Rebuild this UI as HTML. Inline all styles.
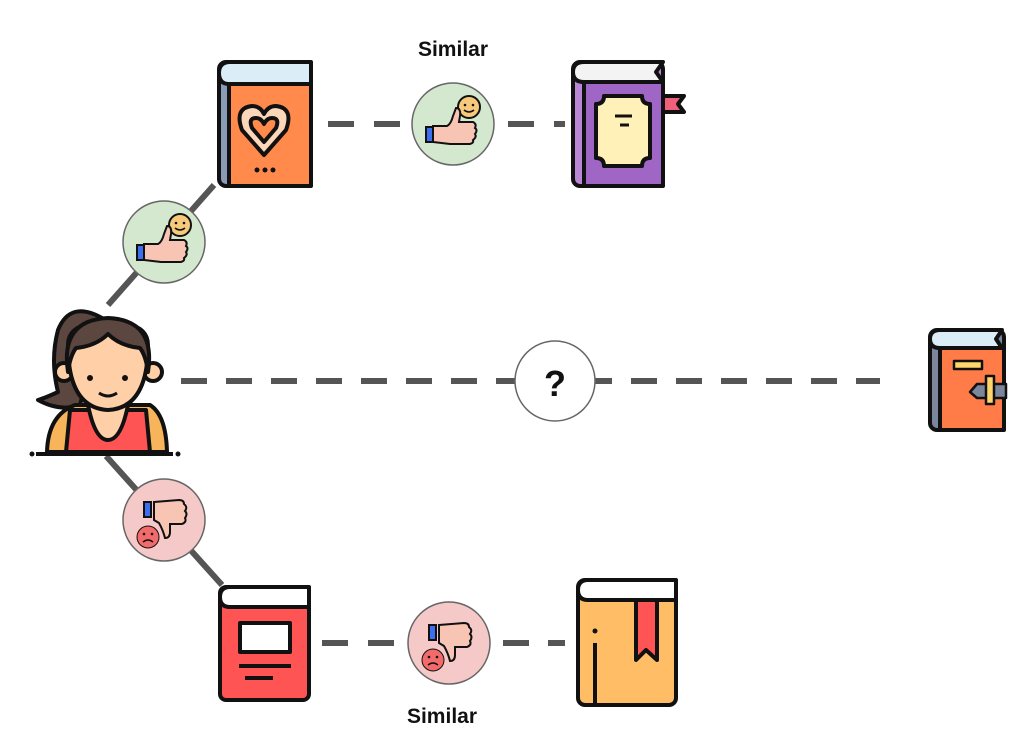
<!DOCTYPE html>
<html><head><meta charset="utf-8"><style>
html,body{margin:0;padding:0;background:#fff;width:1026px;height:730px;overflow:hidden}
svg{display:block}
text{font-family:"Liberation Sans",sans-serif;font-weight:bold}
</style></head><body>
<svg width="1026" height="730" viewBox="0 0 1026 730" xmlns="http://www.w3.org/2000/svg">
<defs>
<g id="up">
 <circle cx="0" cy="0" r="41" fill="#d3e8cf" stroke="#666" stroke-width="1.5"/>
 <circle cx="16" cy="-17" r="11" fill="#f7c97a" stroke="#111" stroke-width="2"/>
 <circle cx="12" cy="-19" r="1.3" fill="#111"/><circle cx="20" cy="-19" r="1.3" fill="#111"/>
 <path d="M11,-14 q5,4 10,0" fill="none" stroke="#111" stroke-width="1.5"/>
 <path d="M-20,2 L-6,2 Q-2,0 0,-8 L3,-16 Q8,-16 7,-8 L6,-2 L20,-2 Q24,0 22,4 Q25,6 22,10 Q24,13 20,16 Q21,19 17,20 L-3,20 L-20,18 Z" fill="#f8c4b4" stroke="#111" stroke-width="2"/>
 <rect x="-27" y="3" width="7" height="15" fill="#3b6ff0" stroke="#111" stroke-width="2"/>
</g>
<g id="down">
 <circle cx="0" cy="0" r="41" fill="#f6c9c9" stroke="#666" stroke-width="1.5"/>
 <circle cx="-16" cy="17" r="11" fill="#f26a6a" stroke="#111" stroke-width="1"/>
 <circle cx="-20" cy="14" r="1.3" fill="#111"/><circle cx="-12" cy="14" r="1.3" fill="#111"/>
 <path d="M-21,22 q5,-4 10,0" fill="none" stroke="#111" stroke-width="1.5"/>
 <path d="M-10,-18 L15,-20 Q20,-20 20,-16 Q24,-13 21,-9 Q24,-6 21,-2 Q23,2 18,4 L6,4 L6,12 Q6,18 1,18 Q-1,10 -5,3 L-10,0 Z" fill="#f8c4b4" stroke="#111" stroke-width="2"/>
 <rect x="-20" y="-18" width="7" height="15" fill="#3b6ff0" stroke="#111" stroke-width="2"/>
</g>
</defs>

<g stroke="#555" stroke-width="6" fill="none">
 <line x1="108" y1="305" x2="214" y2="185"/>
 <line x1="106" y1="456" x2="222" y2="585"/>
 <line x1="181" y1="381" x2="880" y2="381" stroke-dasharray="26 19"/>
 <line x1="328" y1="124" x2="410" y2="124" stroke-dasharray="26 20"/>
 <line x1="508" y1="124" x2="565" y2="124" stroke-dasharray="26 20"/>
 <line x1="322" y1="643" x2="408" y2="643" stroke-dasharray="26 20"/>
 <line x1="503" y1="643" x2="565" y2="643" stroke-dasharray="26 19"/>
</g>

<use href="#up" x="164" y="242"/>
<use href="#up" x="453" y="124"/>
<use href="#down" x="164" y="520"/>
<use href="#down" x="449" y="643"/>

<circle cx="555" cy="381" r="40" fill="#fff" stroke="#666" stroke-width="1.5"/>
<text x="555" y="396" font-size="36" text-anchor="middle" fill="#111">?</text>

<text x="453" y="56" font-size="21" text-anchor="middle" fill="#111">Similar</text>
<text x="442" y="723" font-size="21" text-anchor="middle" fill="#111">Similar</text>

<!-- heart book -->
<g stroke="#111" stroke-width="4" stroke-linejoin="round">
 <rect x="219" y="62" width="92" height="124" rx="7" fill="#8a9bb5"/>
 <rect x="229" y="84" width="82" height="102" fill="#ff8a4c"/>
 <path d="M229,84 Q219,84 219,73 Q219,62 230,62 L311,62 L311,84 Z" fill="#dbeef7"/>
 <path d="M264,155 L242,130 Q234,108 252,106 Q260,106 264,114 Q268,106 276,106 Q294,108 286,130 Z" fill="#fcd6b8"/>
 <path d="M264,142 L252,128 Q248,118 256,118 Q261,118 264,124 Q267,118 272,118 Q280,118 276,128 Z" fill="#ff8a4c"/>
</g>
<g fill="#111"><circle cx="257" cy="170" r="2.5"/><circle cx="265" cy="170" r="2.5"/><circle cx="273" cy="170" r="2.5"/></g>

<!-- purple book -->
<g stroke="#111" stroke-width="4" stroke-linejoin="round">
 <path d="M663,96 L684,96 L678,104 L684,112 L663,112 Z" fill="#f0607a"/>
 <rect x="573" y="62" width="90" height="124" rx="7" fill="#b987d6"/>
 <rect x="584" y="82" width="79" height="104" fill="#a066c6"/>
 <path d="M584,82 Q573,82 573,72 Q573,62 584,62 L663,62 L656,72 L663,82 Z" fill="#f3f3f3"/>
 <path d="M604,96 L642,96 Q642,104 650,104 L650,158 Q642,158 642,166 L604,166 Q604,158 596,158 L596,104 Q604,104 604,96 Z" fill="#fff1b8"/>
</g>
<g stroke="#111" stroke-width="3"><line x1="615" y1="116" x2="632" y2="116"/><line x1="620" y1="125" x2="629" y2="125"/></g>

<!-- right book -->
<g stroke="#111" stroke-width="4" stroke-linejoin="round">
 <rect x="930" y="330" width="74" height="100" rx="7" fill="#7b859b"/>
 <rect x="940" y="348" width="64" height="82" fill="#ff7b47"/>
 <path d="M940,348 Q930,348 930,339 Q930,330 940,330 L1002,330 L996,339 L1002,348 Z" fill="#dbeef7"/>
 <rect x="954" y="361" width="28" height="8" fill="#ffd66b" stroke-width="2.5"/>
 <path d="M970,392 L977,384 L1006,384 L1006,398 L977,398 Z" fill="#7b859b" stroke-width="2.5"/>
 <rect x="986" y="376" width="8" height="28" fill="#ffd66b" stroke-width="2.5"/>
</g>

<!-- red book -->
<g stroke="#111" stroke-width="4" stroke-linejoin="round">
 <rect x="220" y="587" width="89" height="113" rx="6" fill="#ff5454"/>
 <path d="M309,607 L230,607 Q220,607 220,597 Q220,587 230,587 L309,587 Z" fill="#fff"/>
 <rect x="240" y="623" width="50" height="29" fill="#fff"/>
 <line x1="239" y1="666" x2="291" y2="666"/>
 <line x1="245" y1="678" x2="273" y2="678"/>
</g>

<!-- yellow book -->
<g stroke="#111" stroke-width="4" stroke-linejoin="round">
 <rect x="578" y="580" width="98" height="125" rx="7" fill="#ffbe66"/>
 <path d="M676,600 L588,600 Q578,600 578,590 Q578,580 588,580 L676,580 Z" fill="#fff"/>
 <path d="M636,600 L657,600 L657,660 L646,650 L636,660 Z" fill="#ff5454"/>
 <line x1="595" y1="643" x2="595" y2="703"/>
</g>
<circle cx="595" cy="631" r="2.5" fill="#111"/>

<!-- girl -->
<g stroke="#111" stroke-width="4" stroke-linejoin="round">
 <path d="M102,318 Q70,300 58,330 Q50,360 58,392 Q45,398 38,400 Q60,412 80,405 Z" fill="#5b4640"/>
 <path d="M47,452 Q48,415 75,405 L150,405 Q166,415 167,452 Z" fill="#f7b45a"/>
 <path d="M66,452 L70,410 L146,410 L150,452 Z" fill="#ff5454"/>
 <path d="M88,405 Q95,440 108,440 Q121,440 128,405" fill="#ffcfa8"/>
 <circle cx="64" cy="372" r="9" fill="#ffcfa8"/>
 <circle cx="153" cy="372" r="9" fill="#ffcfa8"/>
 <path d="M68,345 Q68,408 108,410 Q148,408 148,345 Q148,322 108,322 Q68,322 68,345 Z" fill="#ffcfa8"/>
 <path d="M68,372 Q60,320 108,318 Q156,320 148,372 Q146,356 140,348 Q120,346 108,334 Q96,346 76,348 Q70,356 68,372 Z" fill="#5b4640"/>
 <line x1="36" y1="454" x2="173" y2="454"/>
</g>
<g fill="#111"><circle cx="90" cy="378" r="3"/><circle cx="125" cy="378" r="3"/><circle cx="32" cy="454" r="2.5"/><circle cx="178" cy="454" r="2.5"/></g>
<path d="M99,393 q9,6 18,0" fill="none" stroke="#111" stroke-width="3"/>
</svg>
</body></html>
